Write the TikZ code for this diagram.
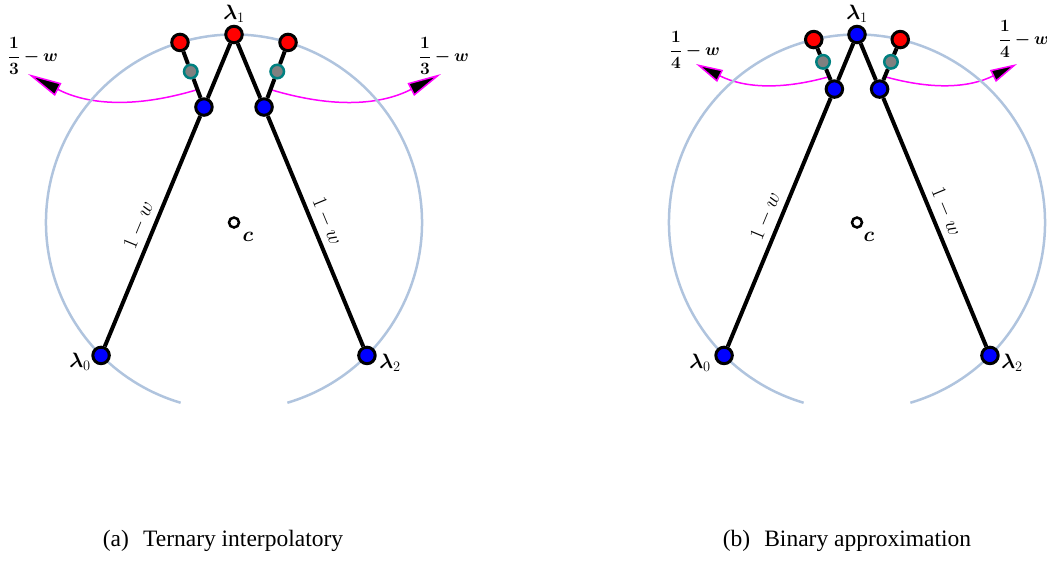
\documentclass[tikz,border=0pt]{standalone}
\usepackage{amsmath}
\usepackage{bm}
\usepackage{fontspec}
\setmainfont{Liberation Serif}
\usetikzlibrary{arrows.meta,calc}
\definecolor{arcblue}{RGB}{176,196,222}
\definecolor{tealc}{RGB}{0,128,128}
\definecolor{magc}{RGB}{255,0,255}
\definecolor{redc}{RGB}{255,0,0}
\definecolor{bluec}{RGB}{0,0,255}
\definecolor{grayc}{RGB}{128,128,128}
\pgfdeclarelayer{back}
\pgfsetlayers{back,main}
\tikzset{
  vtx/.style={circle, draw=black, line width=3pt, minimum size=16.5pt, inner sep=0pt},
  bluept/.style={vtx, fill=bluec},
  redpt/.style={vtx, fill=redc},
  graypt/.style={circle, draw=tealc, fill=grayc, line width=2.5pt, minimum size=13.5pt, inner sep=0pt},
  cpt/.style={circle, draw=black, fill=white, line width=2.5pt, minimum size=10pt, inner sep=0pt},
  seg/.style={line width=4pt, black},
  ring/.style={line width=2.5pt, arcblue},
  mag/.style={line width=1.5pt, magc},
  mlbl/.style={font=\fontsize{21}{24}\selectfont, inner sep=2pt},
  flbl/.style={font=\fontsize{17}{20}\selectfont, inner sep=2pt},
  wlbl/.style={font=\fontsize{20}{23}\selectfont, inner sep=5pt, sloped, above},
  capt/.style={font=\fontsize{23.5}{27}\selectfont, inner sep=0pt},
}
\begin{document}
\begin{tikzpicture}[x=1pt,y=1pt]
\useasboundingbox (0,0) rectangle (1047,-560);

% ---------------- panel (a) ----------------
\coordinate (cA) at (234,-222.5);
\node[redpt]  (l1A) at ($(cA)+(90:188pt)$) {};
\node[bluept] (l0A) at ($(cA)+(225:188pt)$) {};
\node[bluept] (l2A) at ($(cA)+(315:188pt)$) {};
\node[redpt]  (r1A) at ($(cA)+(106.7:188pt)$) {};
\node[redpt]  (r2A) at ($(cA)+(73.3:188pt)$) {};
\node[bluept] (b1A) at ($(l0A)!0.774!(l1A)$) {};
\node[bluept] (b2A) at ($(l2A)!0.774!(l1A)$) {};
\node[graypt] (g1A) at ($(b1A)!0.55!(r1A)$) {};
\node[graypt] (g2A) at ($(b2A)!0.55!(r2A)$) {};
\node[cpt] (ccA) at (cA) {};
\coordinate (m1A) at ($(b1A)!0.27!(r1A)$);
\coordinate (m2A) at ($(b2A)!0.27!(r2A)$);
\coordinate (t1A) at (28,-74);
\coordinate (t2A) at (441,-74);

\begin{pgfonlayer}{back}
  \draw[mag, -{Triangle[length=34pt,width=14pt,fill=black]}] (m1A) to[bend left=22] (t1A);
  \draw[mag, -{Triangle[length=34pt,width=14pt,fill=black]}] (m2A) to[bend right=22] (t2A);
  \draw[ring] ($(cA)+(-73.5:188pt)$) arc[start angle=-73.5, end angle=253.5, radius=188pt];
\end{pgfonlayer}

\draw[seg] (l0A) -- node[wlbl, pos=0.5] {$1-w$} (b1A);
\draw[seg] (b1A) -- (l1A);
\draw[seg] (l1A) -- (b2A);
\draw[seg] (b2A) -- node[wlbl, pos=0.48] {$1-w$} (l2A);
\draw[seg] (b1A) -- (g1A);
\draw[seg] (g1A) -- (r1A);
\draw[seg] (b2A) -- (g2A);
\draw[seg] (g2A) -- (r2A);

\node[mlbl] (n1A) at (234,-14) {$\bm{\lambda}_1$};
\node[mlbl] (n0A) at (80,-362) {$\bm{\lambda}_0$};
\node[mlbl] (n2A) at (390,-363) {$\bm{\lambda}_2$};
\node[mlbl] (ncA) at (248,-237) {$\bm{c}$};
\node[flbl] (f1A) at (33,-56) {$\bm{\dfrac{1}{3}-w}$};
\node[flbl] (f2A) at (444,-56) {$\bm{\dfrac{1}{3}-w}$};
\node[capt] (capA) at (223,-541) {(a)\hspace{0.6em}Ternary interpolatory};

% ---------------- panel (b) ----------------
\coordinate (cB) at (857,-222.5);
\node[bluept] (l1B) at ($(cB)+(90:188pt)$) {};
\node[bluept] (l0B) at ($(cB)+(225:188pt)$) {};
\node[bluept] (l2B) at ($(cB)+(315:188pt)$) {};
\node[redpt]  (r1B) at ($(cB)+(103.3:188pt)$) {};
\node[redpt]  (r2B) at ($(cB)+(76.7:188pt)$) {};
\node[bluept] (b1B) at ($(l0B)!0.83!(l1B)$) {};
\node[bluept] (b2B) at ($(l2B)!0.83!(l1B)$) {};
\node[graypt] (g1B) at ($(b1B)!0.55!(r1B)$) {};
\node[graypt] (g2B) at ($(b2B)!0.55!(r2B)$) {};
\node[cpt] (ccB) at (cB) {};
\coordinate (m1B) at ($(b1B)!0.25!(r1B)$);
\coordinate (m2B) at ($(b2B)!0.25!(r2B)$);
\coordinate (t1B) at (696,-64);
\coordinate (t2B) at (1017,-64);

\begin{pgfonlayer}{back}
  \draw[mag, -{Triangle[length=27pt,width=13pt,fill=black]}] (m1B) to[bend left=21] (t1B);
  \draw[mag, -{Triangle[length=27pt,width=13pt,fill=black]}] (m2B) to[bend right=21] (t2B);
  \draw[ring] ($(cB)+(-73.5:188pt)$) arc[start angle=-73.5, end angle=253.5, radius=188pt];
\end{pgfonlayer}

\draw[seg] (l0B) -- node[wlbl, pos=0.5] {$1-w$} (b1B);
\draw[seg] (b1B) -- (l1B);
\draw[seg] (l1B) -- (b2B);
\draw[seg] (b2B) -- node[wlbl, pos=0.48] {$1-w$} (l2B);
\draw[seg] (b1B) -- (g1B);
\draw[seg] (g1B) -- (r1B);
\draw[seg] (b2B) -- (g2B);
\draw[seg] (g2B) -- (r2B);

\node[mlbl] (n1B) at (857,-14) {$\bm{\lambda}_1$};
\node[mlbl] (n0B) at (700,-363) {$\bm{\lambda}_0$};
\node[mlbl] (n2B) at (1012,-363) {$\bm{\lambda}_2$};
\node[mlbl] (ncB) at (869,-237) {$\bm{c}$};
\node[flbl] (f1B) at (695,-50) {$\bm{\dfrac{1}{4}-w}$};
\node[flbl] (f2B) at (1024,-39) {$\bm{\dfrac{1}{4}-w}$};
\node[capt] (capB) at (847,-541) {(b)\hspace{0.6em}Binary approximation};
\end{tikzpicture}
\end{document}
